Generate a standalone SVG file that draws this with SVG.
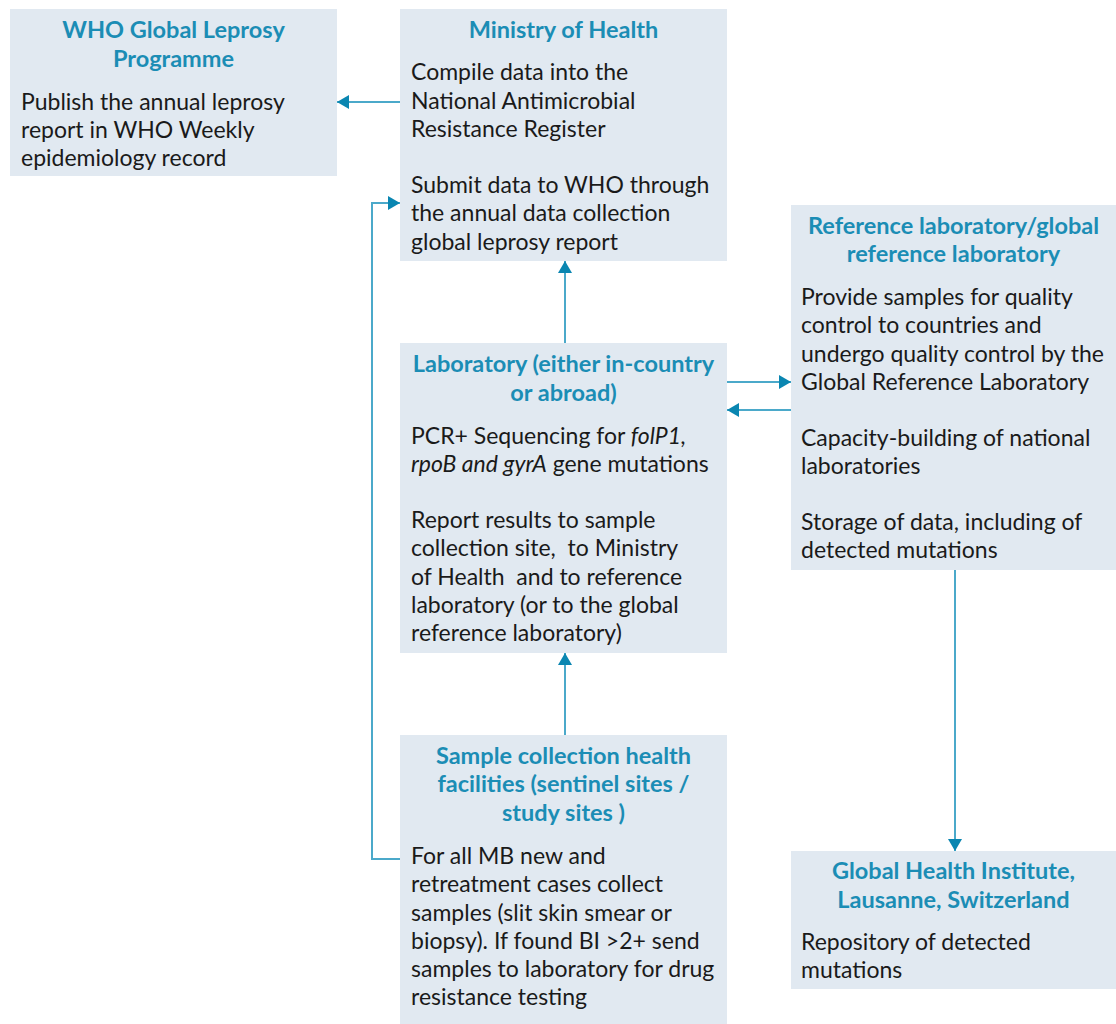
<svg xmlns="http://www.w3.org/2000/svg" width="1116" height="1024" viewBox="0 0 1116 1024">
  <style>
    .box { fill: #e1e9f1; }
    .title { font-family: Lato, "Open Sans", sans-serif; font-weight: bold; font-size: 23.5px; fill: #1b8db5; text-anchor: middle; }
    .body { font-family: Lato, "Open Sans", sans-serif; font-size: 23px; fill: #1a1a1a; }
    .link { fill: none; stroke: #4ba9ca; stroke-width: 2; }
  </style>
  <defs>
    <marker id="arrowLg" viewBox="0 0 12 14" refX="12" refY="7" markerWidth="12" markerHeight="14" markerUnits="userSpaceOnUse" orient="auto">
      <path d="M0,0 L12,7 L0,14 Z" fill="#0a86b1"/>
    </marker>
  </defs>

  <!-- connectors -->
  <g id="connectors">
    <line class="link" x1="400" y1="102" x2="337" y2="102" marker-end="url(#arrowLg)"/>
    <line class="link" x1="565" y1="343" x2="565" y2="261" marker-end="url(#arrowLg)"/>
    <line class="link" x1="727" y1="382" x2="791" y2="382" marker-end="url(#arrowLg)"/>
    <line class="link" x1="791" y1="410" x2="727" y2="410" marker-end="url(#arrowLg)"/>
    <line class="link" x1="565" y1="735" x2="565" y2="653" marker-end="url(#arrowLg)"/>
    <polyline class="link" points="400,859 372,859 372,203 400,203" marker-end="url(#arrowLg)"/>
    <line class="link" x1="955" y1="570" x2="955" y2="851" marker-end="url(#arrowLg)"/>
  </g>

  <!-- WHO Global Leprosy Programme -->
  <g id="who">
    <rect class="box" x="10" y="9" width="327" height="167"/>
    <text class="title" x="173.5" y="38">WHO Global Leprosy</text>
    <text class="title" x="173.5" y="67">Programme</text>
    <text class="body" x="21" y="110">Publish the annual leprosy</text>
    <text class="body" x="21" y="138">report in WHO Weekly</text>
    <text class="body" x="21" y="166">epidemiology record</text>
  </g>

  <!-- Ministry of Health -->
  <g id="ministry">
    <rect class="box" x="400" y="9" width="327" height="252"/>
    <text class="title" x="563.5" y="38">Ministry of Health</text>
    <text class="body" x="411" y="80">Compile data into the</text>
    <text class="body" x="411" y="109">National Antimicrobial</text>
    <text class="body" x="411" y="137">Resistance Register</text>
    <text class="body" x="411" y="193">Submit data to WHO through</text>
    <text class="body" x="411" y="221">the annual data collection</text>
    <text class="body" x="411" y="250">global leprosy report</text>
  </g>

  <!-- Reference laboratory -->
  <g id="reference-lab">
    <rect class="box" x="791" y="205" width="325" height="365"/>
    <text class="title" x="953.5" y="234">Reference laboratory/global</text>
    <text class="title" x="953.5" y="262">reference laboratory</text>
    <text class="body" x="801" y="305">Provide samples for quality</text>
    <text class="body" x="801" y="333">control to countries and</text>
    <text class="body" x="801" y="362">undergo quality control by the</text>
    <text class="body" x="801" y="390">Global Reference Laboratory</text>
    <text class="body" x="801" y="446">Capacity-building of national</text>
    <text class="body" x="801" y="474">laboratories</text>
    <text class="body" x="801" y="530">Storage of data, including of</text>
    <text class="body" x="801" y="558">detected mutations</text>
  </g>

  <!-- Laboratory -->
  <g id="laboratory">
    <rect class="box" x="400" y="343" width="327" height="310"/>
    <text class="title" x="563.5" y="372">Laboratory (either in-country</text>
    <text class="title" x="563.5" y="401">or abroad)</text>
    <text class="body" x="411" y="444">PCR+ Sequencing for <tspan font-style="italic">folP1,</tspan></text>
    <text class="body" x="411" y="472"><tspan font-style="italic">rpoB and gyrA</tspan> gene mutations</text>
    <text class="body" x="411" y="528">Report results to sample</text>
    <text class="body" x="411" y="556" xml:space="preserve">collection site,  to Ministry</text>
    <text class="body" x="411" y="585" xml:space="preserve">of Health  and to reference</text>
    <text class="body" x="411" y="613">laboratory (or to the global</text>
    <text class="body" x="411" y="641">reference laboratory)</text>
  </g>

  <!-- Sample collection health facilities -->
  <g id="sample-sites">
    <rect class="box" x="400" y="735" width="327" height="289"/>
    <text class="title" x="563.5" y="764">Sample collection health</text>
    <text class="title" x="563.5" y="792">facilities (sentinel sites /</text>
    <text class="title" x="563.5" y="821">study sites )</text>
    <text class="body" x="411" y="864">For all MB new and</text>
    <text class="body" x="411" y="892">retreatment cases collect</text>
    <text class="body" x="411" y="921">samples (slit skin smear or</text>
    <text class="body" x="411" y="949">biopsy). If found BI &gt;2+ send</text>
    <text class="body" x="411" y="977">samples to laboratory for drug</text>
    <text class="body" x="411" y="1005">resistance testing</text>
  </g>

  <!-- Global Health Institute -->
  <g id="global-health">
    <rect class="box" x="791" y="851" width="325" height="138"/>
    <text class="title" x="953.5" y="879">Global Health Institute,</text>
    <text class="title" x="953.5" y="908">Lausanne, Switzerland</text>
    <text class="body" x="801" y="950">Repository of detected</text>
    <text class="body" x="801" y="978">mutations</text>
  </g>
</svg>
